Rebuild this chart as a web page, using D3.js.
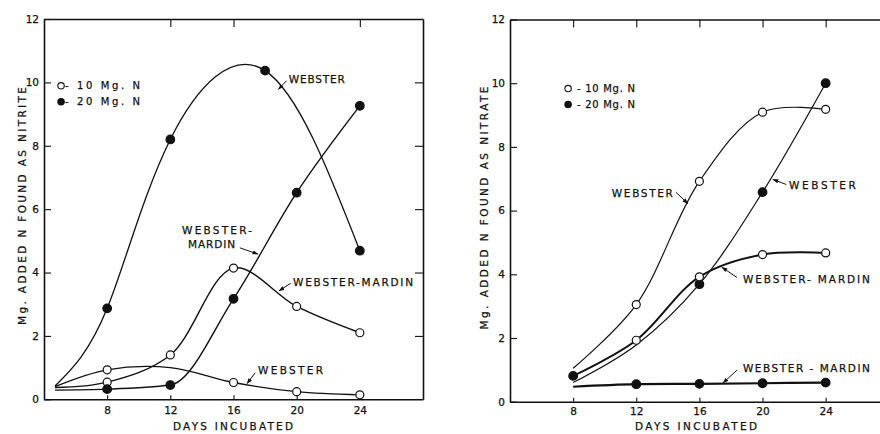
<!DOCTYPE html>
<html>
<head>
<meta charset="utf-8">
<script src="https://cdn.jsdelivr.net/npm/d3@7"></script>
<style>
  body { margin: 0; background: #fff; }
  svg { display: block; font-family: "DejaVu Sans", sans-serif; }
  text { stroke: #111; stroke-width: 0.25px; }
</style>
</head>
<body>
<div id="chart"></div>
<script>
// ticks
const dayTicks = [8, 12, 16, 20, 24];
const valueTicks = [0, 2, 4, 6, 8, 10, 12];
const sideTicks = [2, 4, 6, 8, 10];

// points: [day, mg N, mark]   mark: "o" = 10 Mg. N, "f" = 20 Mg. N, "" = none
// nitrite (left)
const nitriteWebster20 = [[4.7, 0.42, ""], [8, 2.87, "f"], [12, 8.2, "f"], [18, 10.37, "f"], [24, 4.69, "f"]];
const nitriteWebster10 = [[4.7, 0.4, ""], [8, 0.93, "o"], [12, 1.0, ""], [16, 0.53, "o"], [20, 0.24, "o"], [24, 0.14, "o"]];
const nitriteMardin10 = [[4.7, 0.37, ""], [8, 0.54, "o"], [12, 1.4, "o"], [16, 4.14, "o"], [20, 2.93, "o"], [24, 2.1, "o"]];
const nitriteMardin20 = [[4.7, 0.29, ""], [8, 0.32, "f"], [12, 0.45, "f"], [16, 3.17, "f"], [20, 6.52, "f"], [24, 9.26, "f"]];

// nitrate (right)
const nitrateWebster10 = [[8, 1.05, ""], [12, 3.05, "o"], [16, 6.92, "o"], [20, 9.09, "o"], [24, 9.18, "o"]];
const nitrateWebster20 = [[8, 0.6, ""], [12, 1.78, ""], [16, 3.69, "f"], [20, 6.58, "f"], [24, 10.0, "f"]];
const nitrateMardin10 = [[8, 0.81, "f"], [12, 1.93, "o"], [16, 3.92, "o"], [20, 4.62, "o"], [24, 4.67, "o"]];
const nitrateMardin20 = [[8, 0.47, ""], [12, 0.55, "f"], [16, 0.56, "f"], [20, 0.58, "f"], [24, 0.6, "f"]];

// labels: text, day, value, width, arrow [day1, v1, day2, v2]
const nitriteLabels = [
  {text: "WEBSTER", d: 19.5, v: 10.1, len: 56, arrow: [19.35, 10.05, 18.85, 9.78]},
  {text: "WEBSTER-", d: 12.74, v: 5.35, len: 70},
  {text: "MARDIN", d: 13.12, v: 4.9, len: 47, arrow: [16.4, 4.78, 17.55, 4.58]},
  {text: "WEBSTER-MARDIN", d: 19.77, v: 3.7, len: 120, arrow: [19.62, 3.66, 18.88, 3.42]},
  {text: "WEBSTER", d: 17.55, v: 0.93, len: 65, arrow: [17.38, 0.84, 16.86, 0.5]}
];
const nitrateLabels = [
  {text: "WEBSTER", d: 10.45, v: 6.54, len: 61, arrow: [14.5, 6.58, 15.27, 6.22]},
  {text: "WEBSTER", d: 21.67, v: 6.79, len: 67, arrow: [21.5, 6.82, 20.66, 6.98]},
  {text: "WEBSTER- MARDIN", d: 18.76, v: 3.84, len: 127, arrow: [18.38, 3.9, 17.43, 4.22]},
  {text: "WEBSTER - MARDIN", d: 18.76, v: 1.06, len: 127, arrow: [18.38, 0.99, 17.5, 0.59]}
];

const W = 880, H = 434;
const svg = d3.select("#chart").append("svg")
    .attr("width", W)
    .attr("height", H);

svg.append("defs").append("marker")
    .attr("id", "arrow")
    .attr("viewBox", "0 0 10 10")
    .attr("refX", 9).attr("refY", 5)
    .attr("markerWidth", 6).attr("markerHeight", 6)
    .attr("orient", "auto")
  .append("path")
    .attr("d", "M0,1.5L10,5L0,8.5Z")
    .attr("fill", "#111");

const catmull = d3.curveCatmullRom.alpha(0.5);

const panels = [
  {
    left: 44, right: 423, top: 19, bottom: 399.3,
    topTicks: [12, 16, 24], padX: 7,
    series: [
      {pts: nitriteWebster20, w: 1.3, curve: d3.curveNatural},
      {pts: nitriteWebster10, w: 1.3, curve: catmull},
      {pts: nitriteMardin10, w: 1.4, curve: catmull},
      {pts: nitriteMardin20, w: 1.4, curve: d3.curveMonotoneX}
    ],
    labels: nitriteLabels,
    legend: {d: 5.08, v: [9.89, 9.39], tx: 5.33, len: 75, text: ["- 10  Mg.  N", "- 20  Mg.  N"]},
    ytitle: "Mg.  ADDED  N  FOUND  AS  NITRITE", yx: 22, yc: 206, ylen: 238,
    xc: 233, xlen: 120
  },
  {
    left: 510, right: 888.8, top: 19.5, bottom: 401.7,
    topTicks: dayTicks, padX: 6,
    series: [
      {pts: nitrateWebster10, w: 1.2, curve: catmull},
      {pts: nitrateWebster20, w: 1.2, curve: catmull},
      {pts: nitrateMardin10, w: 2, curve: catmull},
      {pts: nitrateMardin20, w: 2.2, curve: catmull}
    ],
    labels: nitrateLabels,
    legend: {d: 7.68, v: [9.83, 9.33], tx: 8.24, len: 58, text: ["- 10  Mg.  N", "- 20  Mg.  N"]},
    ytitle: "Mg.  ADDED  N  FOUND  AS  NITRATE", yx: 484, yc: 208, ylen: 243,
    xc: 696, xlen: 122
  }
];

panels.forEach(drawPanel);

function drawPanel(p) {
  const x = d3.scaleLinear().domain([4, 28]).range([p.left, p.right]);
  const y = d3.scaleLinear().domain([0, 12]).range([p.bottom, p.top]);
  const g = svg.append("g");

  // frame and ticks
  g.append("g")
      .attr("transform", `translate(0,${p.bottom})`)
      .call(d3.axisBottom(x).tickValues(dayTicks).tickSizeInner(-4).tickSizeOuter(0).tickPadding(p.padX));
  g.append("g")
      .attr("transform", `translate(${p.left},0)`)
      .call(d3.axisLeft(y).tickValues(valueTicks).tickSizeInner(-7).tickSizeOuter(0).tickPadding(5));
  g.append("g")
      .attr("transform", `translate(0,${p.top})`)
      .call(d3.axisTop(x).tickValues(p.topTicks).tickSizeInner(-8).tickSizeOuter(0).tickFormat(""));
  g.append("g")
      .attr("transform", `translate(${p.right},0)`)
      .call(d3.axisRight(y).tickValues(sideTicks).tickSizeInner(-8).tickSizeOuter(0).tickFormat(""));

  g.selectAll(".domain").attr("stroke", "#111").attr("stroke-width", 1.6);
  g.selectAll(".tick line").attr("stroke", "#111").attr("stroke-width", 1.1);
  g.selectAll(".tick text")
      .attr("fill", "#111")
      .attr("font-size", 10.5)
      .attr("font-family", "DejaVu Sans, sans-serif");

  // curves
  g.append("g")
    .selectAll("path")
    .data(p.series)
    .join("path")
      .attr("d", s => d3.line()
          .x(d => x(d[0]))
          .y(d => y(d[1]))
          .curve(s.curve)(s.pts))
      .attr("fill", "none")
      .attr("stroke", "#111")
      .attr("stroke-width", s => s.w);

  // markers
  const marks = p.series.flatMap(s => s.pts.filter(d => d[2]));
  g.append("g")
    .selectAll("circle")
    .data(marks)
    .join("circle")
      .attr("cx", d => x(d[0]))
      .attr("cy", d => y(d[1]))
      .attr("r", d => d[2] === "f" ? 4.3 : 4)
      .attr("fill", d => d[2] === "f" ? "#111" : "#fff")
      .attr("stroke", "#111")
      .attr("stroke-width", 1.2);

  // labels
  g.append("g")
    .selectAll("text")
    .data(p.labels)
    .join("text")
      .attr("x", d => x(d.d))
      .attr("y", d => y(d.v))
      .attr("dy", "0.36em")
      .attr("font-size", 10.5)
      .attr("textLength", d => d.len)
      .attr("lengthAdjust", "spacing")
      .attr("fill", "#111")
      .text(d => d.text);

  g.append("g")
    .selectAll("line")
    .data(p.labels.filter(d => d.arrow))
    .join("line")
      .attr("x1", d => x(d.arrow[0]))
      .attr("y1", d => y(d.arrow[1]))
      .attr("x2", d => x(d.arrow[2]))
      .attr("y2", d => y(d.arrow[3]))
      .attr("stroke", "#111")
      .attr("stroke-width", 1)
      .attr("marker-end", "url(#arrow)");

  // legend
  const lg = p.legend;
  lg.v.forEach((v, i) => {
    g.append("circle")
        .attr("cx", x(lg.d))
        .attr("cy", y(v))
        .attr("r", 3.2)
        .attr("fill", i === 0 ? "#fff" : "#111")
        .attr("stroke", "#111")
        .attr("stroke-width", 1.1);
    g.append("text")
        .attr("x", x(lg.tx))
        .attr("y", y(v))
        .attr("dy", "0.36em")
        .attr("font-size", 10)
        .attr("textLength", lg.len)
        .attr("lengthAdjust", "spacing")
        .attr("fill", "#111")
        .text(lg.text[i]);
  });

  // axis titles
  g.append("text")
      .attr("transform", `translate(${p.yx},${p.yc}) rotate(-90)`)
      .attr("text-anchor", "middle")
      .attr("dy", "0.36em")
      .attr("font-size", 10.5)
      .attr("textLength", p.ylen)
      .attr("lengthAdjust", "spacing")
      .attr("fill", "#111")
      .text(p.ytitle);

  g.append("text")
      .attr("x", p.xc - p.xlen / 2)
      .attr("y", 430)
      .attr("font-size", 10.5)
      .attr("textLength", p.xlen)
      .attr("lengthAdjust", "spacing")
      .attr("fill", "#111")
      .text("DAYS  INCUBATED");
}
</script>
</body>
</html>
